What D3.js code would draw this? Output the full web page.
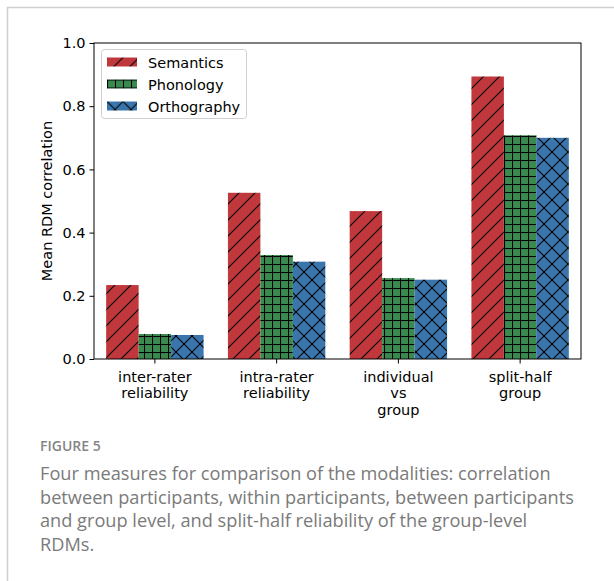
<!DOCTYPE html>
<html>
<head>
<meta charset="UTF-8">
<script src="https://cdn.jsdelivr.net/npm/d3@7"></script>
<style>
  body { margin: 0; background: #fff; }
  svg text { font-family: "DejaVu Sans", sans-serif; }
  svg text.caption { font-family: "Open Sans", Lato, sans-serif; fill: #7a7a7a; }
</style>
</head>
<body>
<svg id="fig" width="614" height="581"></svg>
<script>
// data
var categories = ["inter-rater\nreliability", "intra-rater\nreliability", "individual\nvs\ngroup", "split-half\ngroup"];
var seriesNames = ["Semantics", "Phonology", "Orthography"];
var semantics   = [0.234, 0.526, 0.468, 0.894];
var phonology   = [0.079, 0.329, 0.256, 0.708];
var orthography = [0.076, 0.308, 0.251, 0.700];
var yTicks = [0.0, 0.2, 0.4, 0.6, 0.8, 1.0];
var captionLines = [
  "Four measures for comparison of the modalities: correlation",
  "between participants, within participants, between participants",
  "and group level, and split-half reliability of the group-level",
  "RDMs."
];

var colors = ["#c0383c", "#3a8a4f", "#3a76ad"];
var hatches = ["diag", "plus", "cross"];
var values = [semantics, phonology, orthography];

var svg = d3.select("#fig");

// card outline
svg.append("path")
  .attr("d", "M7.5,581 V7.5 H614")
  .attr("fill", "none")
  .attr("stroke", "#cfcfcf")
  .attr("stroke-width", 1.5);

// hatch patterns
var defs = svg.append("defs");
function pattern(id, size, color, draw) {
  var p = defs.append("pattern")
    .attr("id", id)
    .attr("patternUnits", "userSpaceOnUse")
    .attr("width", size).attr("height", size);
  p.append("rect").attr("width", size).attr("height", size).attr("fill", color);
  draw(p, size);
}
function ln(p, x1, y1, x2, y2) {
  p.append("line").attr("x1", x1).attr("y1", y1).attr("x2", x2).attr("y2", y2)
    .attr("stroke", "#000").attr("stroke-width", 1.1);
}
pattern("diag", 16, colors[0], function(p, s) {
  ln(p, 0, s, s, 0); ln(p, -s / 2, s / 2, s / 2, -s / 2); ln(p, s / 2, s * 1.5, s * 1.5, s / 2);
});
pattern("plus", 8, colors[1], function(p, s) {
  ln(p, 0.5, 0, 0.5, s); ln(p, 0, 0.5, s, 0.5);
});
pattern("cross", 16, colors[2], function(p, s) {
  ln(p, 0, s, s, 0); ln(p, 0, 0, s, s);
  ln(p, -s / 2, s / 2, s / 2, -s / 2); ln(p, s / 2, s * 1.5, s * 1.5, s / 2);
  ln(p, -s / 2, s / 2, s / 2, s * 1.5); ln(p, s / 2, -s / 2, s * 1.5, s / 2);
});

var margin = { left: 94, right: 581, top: 43, bottom: 359 };

var x0 = d3.scaleBand()
  .domain(categories)
  .range([margin.left, margin.right])
  .paddingInner(0.2)
  .paddingOuter(0.1);

var x1 = d3.scaleBand()
  .domain(seriesNames)
  .range([0, x0.bandwidth()]);

var y = d3.scaleLinear()
  .domain([0, 1])
  .range([margin.bottom, margin.top]);

// bars
seriesNames.forEach(function(name, si) {
  svg.append("g")
    .selectAll("rect")
    .data(values[si])
    .enter()
    .append("rect")
    .attr("x", (d, i) => x0(categories[i]) + x1(name))
    .attr("y", d => y(d))
    .attr("width", x1.bandwidth())
    .attr("height", d => y(0) - y(d))
    .attr("fill", `url(#${hatches[si]})`);
});

// y axis
var yAxis = svg.append("g")
  .attr("transform", `translate(${margin.left},0)`)
  .call(d3.axisLeft(y).tickValues(yTicks).tickFormat(d3.format(".1f")).tickSizeOuter(0).tickSize(4.5).tickPadding(4))
  .call(g => g.select(".domain").remove());
yAxis.selectAll("text").style("font-size", "14.5px").attr("fill", "#000");
yAxis.selectAll("line").attr("stroke", "#000");

// x axis
var xAxis = svg.append("g")
  .attr("transform", `translate(0,${margin.bottom})`)
  .call(d3.axisBottom(x0).tickSizeOuter(0).tickSize(4.5).tickFormat(""))
  .call(g => g.select(".domain").remove());
xAxis.selectAll("line").attr("stroke", "#000");

categories.forEach(function(c) {
  var t = svg.append("text")
    .attr("x", x0(c) + x0.bandwidth() / 2)
    .attr("y", margin.bottom + 22.5)
    .attr("text-anchor", "middle")
    .style("font-size", "14.5px");
  c.split("\n").forEach(function(part, k) {
    t.append("tspan")
      .attr("x", x0(c) + x0.bandwidth() / 2)
      .attr("dy", k === 0 ? 0 : 16.7)
      .text(part);
  });
});

// frame
svg.append("rect")
  .attr("x", margin.left)
  .attr("y", margin.top)
  .attr("width", margin.right - margin.left)
  .attr("height", margin.bottom - margin.top)
  .attr("fill", "none")
  .attr("stroke", "#000")
  .attr("stroke-width", 1);

// y label
svg.append("text")
  .attr("transform", `translate(52,${(margin.top + margin.bottom) / 2}) rotate(-90)`)
  .attr("text-anchor", "middle")
  .style("font-size", "14.5px")
  .text("Mean RDM correlation");

// legend
var legend = svg.append("g").attr("transform", "translate(101.5,49.5)");
legend.append("rect")
  .attr("width", 145)
  .attr("height", 69)
  .attr("rx", 3)
  .attr("fill", "#fff")
  .attr("fill-opacity", 0.8)
  .attr("stroke", "#d0d0d0");
seriesNames.forEach(function(name, i) {
  var row = legend.append("g").attr("transform", `translate(5.5,${8 + i * 22})`);
  row.append("rect")
    .attr("width", 30)
    .attr("height", 9)
    .attr("fill", `url(#${hatches[i]})`);
  row.append("text")
    .attr("x", 41)
    .attr("y", 10)
    .style("font-size", "14.5px")
    .text(name);
});

// caption
svg.append("text")
  .attr("class", "caption")
  .attr("x", 40)
  .attr("y", 451)
  .style("font-size", "14px")
  .style("font-weight", "600")
  .style("fill", "#858585")
  .text("FIGURE 5");

captionLines.forEach(function(line, i) {
  svg.append("text")
    .attr("class", "caption")
    .attr("x", 40)
    .attr("y", 480 + i * 23.7)
    .style("font-size", "18.2px")
    .text(line);
});
</script>
</body>
</html>
